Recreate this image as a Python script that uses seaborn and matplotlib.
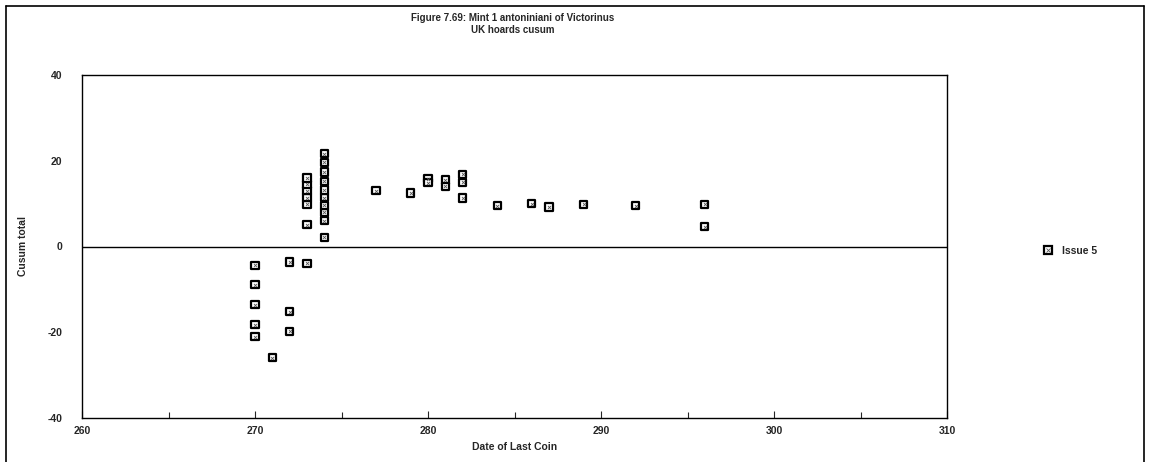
import matplotlib
matplotlib.use("Agg")
import matplotlib.pyplot as plt
import seaborn as sns
import pandas as pd
from matplotlib.ticker import MultipleLocator
from matplotlib.lines import Line2D

# ---- data ----
dates = [270, 270, 270, 270, 270,
         271,
         272, 272, 272,
         273, 273, 273, 273, 273, 273, 273,
         274, 274, 274, 274, 274, 274, 274, 274, 274, 274,
         277, 279, 280, 280, 281, 281, 282, 282, 282,
         284, 286, 287, 289, 292, 296, 296]
cusum = [-4.4, -8.9, -13.6, -18.2, -21.0,
         -25.9,
         -3.6, -15.2, -19.8,
         -3.9, 5.1, 9.8, 11.4, 13.0, 14.5, 16.0,
         2.1, 6.0, 8.0, 9.6, 11.4, 13.2, 15.2, 17.4, 19.6, 21.6,
         13.0, 12.5, 15.8, 14.9, 15.5, 14.0, 16.8, 15.0, 11.3,
         9.5, 10.0, 9.2, 9.8, 9.5, 9.8, 4.6]
series_name = "Issue 5"
title_lines = ["Figure 7.69: Mint 1 antoniniani of Victorinus", "UK hoards cusum"]
x_label = "Date of Last Coin"
y_label = "Cusum total"

df = pd.DataFrame({"date": dates, "cusum": cusum, "series": series_name})

sns.set_style("white")
plt.rcParams["font.family"] = ["Liberation Sans", "DejaVu Sans"]
plt.rcParams["font.weight"] = "bold"
plt.rcParams["axes.labelweight"] = "bold"
plt.rcParams["axes.unicode_minus"] = False

FS = 7.5
fig = plt.figure(figsize=(11.51, 4.62), dpi=100)
ax = fig.add_axes([82/1151, 1-418/462, (947-82)/1151, (418-75)/462])

sns.scatterplot(data=df, x="date", y="cusum", hue="series", palette=["white"],
                marker="s", s=27, edgecolor="black", linewidth=1.6,
                ax=ax, legend=False, zorder=3)
# faint inner texture of the Excel-style marker
sns.scatterplot(data=df, x="date", y="cusum", color="#555555", marker="x",
                s=5, linewidth=0.6, ax=ax, legend=False, zorder=4)

ax.axhline(0, color="black", linewidth=1.0, zorder=2)

ax.set_xlim(260, 310)
ax.set_ylim(-40, 40)
ax.xaxis.set_major_locator(MultipleLocator(10))
ax.xaxis.set_minor_locator(MultipleLocator(5))
ax.yaxis.set_major_locator(MultipleLocator(20))
ax.tick_params(axis="x", which="major", direction="in", length=5, width=0.8,
               labelsize=FS, pad=6, bottom=True)
ax.tick_params(axis="x", which="minor", direction="in", length=4, width=0.8, bottom=True)
ax.tick_params(axis="y", which="major", length=0, labelsize=FS, pad=14)
for lab in ax.get_xticklabels() + ax.get_yticklabels():
    lab.set_fontweight("bold")
for s in ax.spines.values():
    s.set_color("black")
    s.set_linewidth(1.0)

ax.set_xlabel(x_label, fontsize=FS, labelpad=4, fontweight="bold")
ax.set_ylabel(y_label, fontsize=FS, labelpad=14, fontweight="bold")

fig.text(513/1151, 1-18/462, title_lines[0], ha="center", va="center",
         fontsize=7, fontweight="bold")
fig.text(513/1151, 1-30/462, title_lines[1], ha="center", va="center",
         fontsize=7, fontweight="bold")

# legend outside the plot area
handle = (Line2D([], [], marker="s", linestyle="none", markersize=5.2,
                 markerfacecolor="white", markeredgecolor="black", markeredgewidth=1.6),
          Line2D([], [], marker="x", linestyle="none", markersize=2.2,
                 markeredgecolor="#555555", markeredgewidth=0.6))
fig.legend([handle], [series_name], loc="center left",
           bbox_to_anchor=(1033/1151, 1-251/462), frameon=False,
           prop={"size": FS, "weight": "bold"}, handletextpad=0.9, handlelength=1.0)

# outer chart border
L, R, T = 6/1151, 1144/1151, 1-6/462
for xs, ys in [([L, L], [0, T]), ([L, R], [T, T]), ([R, R], [0, T])]:
    fig.add_artist(Line2D(xs, ys, color="black", linewidth=1.2, transform=fig.transFigure))

fig.savefig("out.png", dpi=100)
